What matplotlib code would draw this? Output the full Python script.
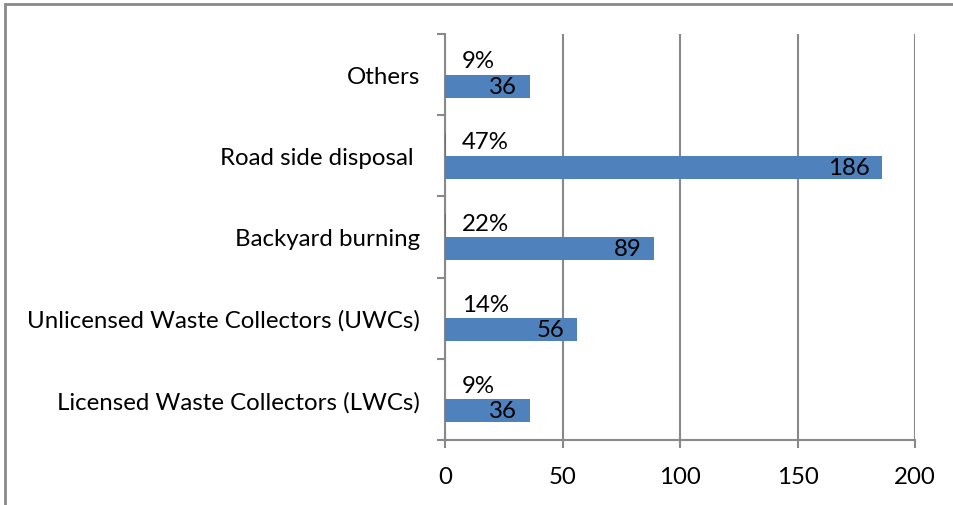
import numpy as np
import matplotlib.pyplot as plt
from matplotlib.patches import Rectangle

categories = ["Licensed Waste Collectors (LWCs)",
              "Unlicensed Waste Collectors (UWCs)",
              "Backyard burning",
              "Road side disposal ",
              "Others"]
counts = [36, 56, 89, 186, 36]
shares = [0.09, 0.14, 0.22, 0.47, 0.09]
share_labels = ["9%", "14%", "22%", "47%", "9%"]
x_ticks = [0, 50, 100, 150, 200]

blue = "#4F81BD"
red = "#C0504D"
grey = "#898989"
fs = 17.3

plt.rcParams['font.family'] = ['Lato', 'DejaVu Sans']

fig = plt.figure(figsize=(9.54, 5.06), dpi=100)
ax = fig.add_axes([445 / 954, 1 - 441 / 506, 470 / 954, 406 / 506])

y = np.arange(len(categories))
h = 0.284
ax.barh(y + h / 2, shares, height=h, color=red, zorder=3)
ax.barh(y - h / 2, counts, height=h, color=blue, zorder=3)

for yi, c, s in zip(y, counts, share_labels):
    ax.annotate(str(c), (c, yi - h / 2), xytext=(-9, 0), textcoords="offset points",
                ha="right", va="center", fontsize=fs, zorder=4)
    ax.annotate(s, (0, yi + h / 2 + 0.03), xytext=(12, 0), textcoords="offset points",
                ha="left", va="center", fontsize=fs, zorder=4)

ax.set_xlim(0, 200)
ax.set_ylim(-0.5, len(categories) - 0.5)
ax.set_xticks(x_ticks)
ax.set_xticklabels([str(t) for t in x_ticks], fontsize=fs)
ax.set_yticks(y)
ax.set_yticklabels(categories, fontsize=fs)
ax.tick_params(axis="y", length=0, pad=18)
ax.tick_params(axis="x", length=6, width=1.5, color=grey, pad=13)

# category boundary ticks on the value axis
ax.set_yticks(np.arange(-0.5, len(categories)), minor=True)
ax.tick_params(axis="y", which="minor", length=6, width=1.5, color=grey)

ax.grid(axis="x", color=grey, linewidth=1.5, zorder=0)
for side in ["top", "right"]:
    ax.spines[side].set_visible(False)
for side in ["left", "bottom"]:
    ax.spines[side].set_color(grey)
    ax.spines[side].set_linewidth(1.5)

fig.patches.append(Rectangle((5 / 954, -0.1), 1.2, 1 - 5 / 506 + 0.1,
                             transform=fig.transFigure, fill=False,
                             edgecolor=grey, linewidth=2))

fig.savefig("out.png", dpi=100)
